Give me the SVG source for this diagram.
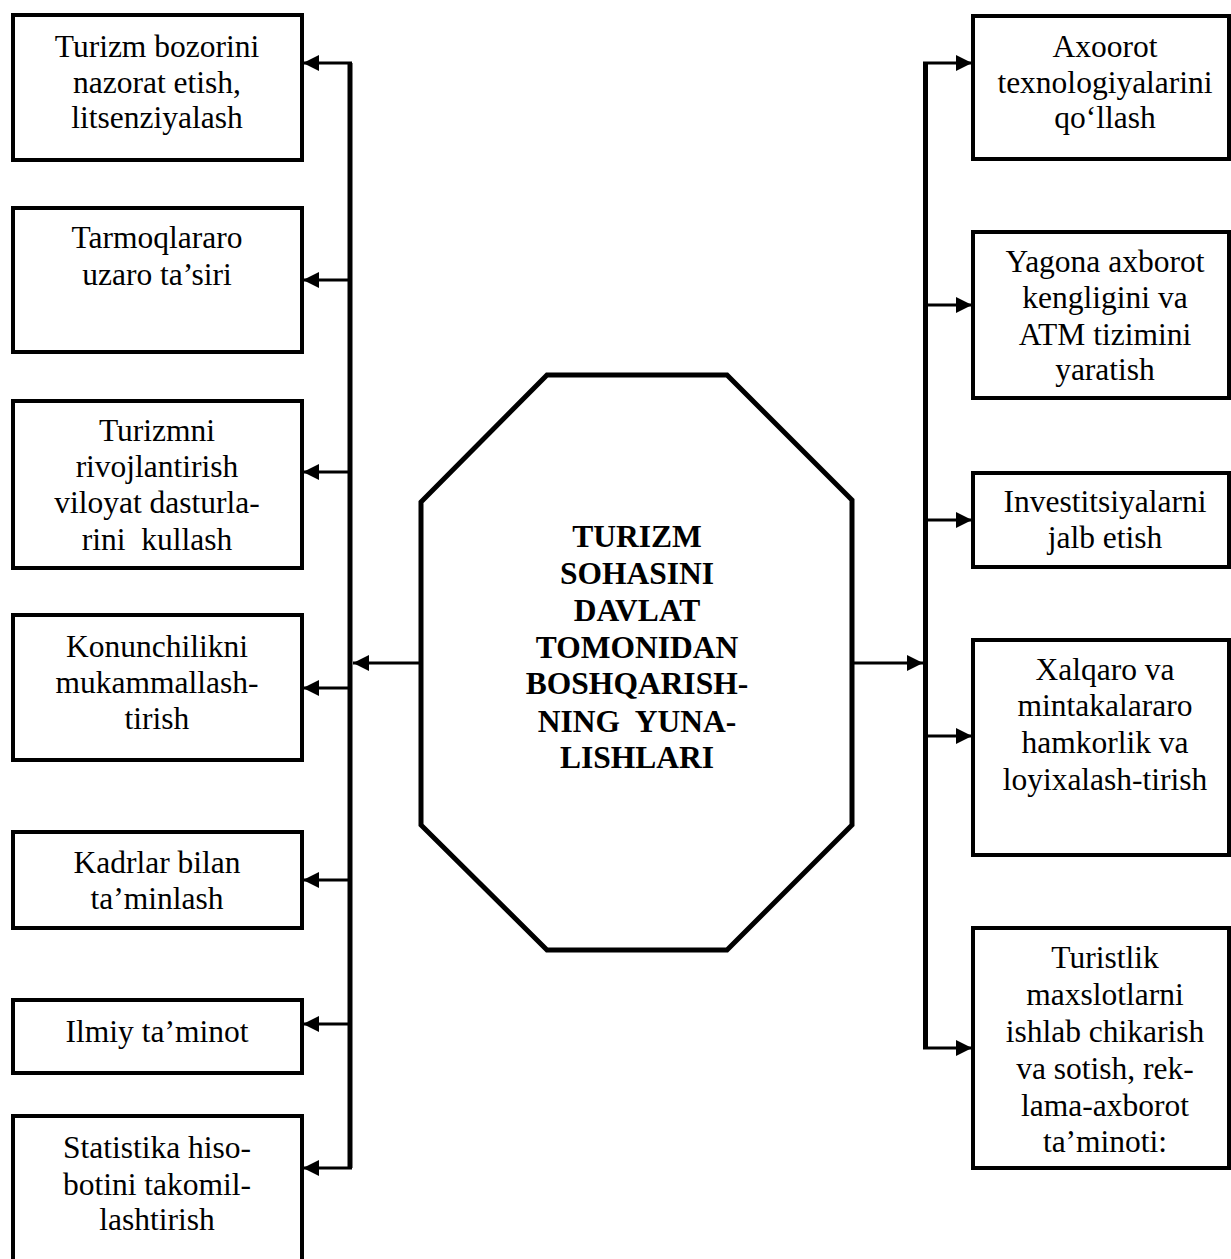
<svg xmlns="http://www.w3.org/2000/svg" width="1231" height="1259" viewBox="0 0 1231 1259">
  <style>
    .box { fill: #fff; stroke: #000; stroke-width: 4; }
    .oct { fill: #fff; stroke: #000; stroke-width: 5; stroke-linejoin: miter; }
    .bus { fill: none; stroke: #000; stroke-width: 5; stroke-linejoin: miter; }
    .arr { fill: none; stroke: #000; stroke-width: 3; }
    .t { font-family: "Liberation Serif", "Times New Roman", serif; font-size: 31.5px; fill: #000; text-anchor: middle; }
    .c { font-family: "Liberation Serif", "Times New Roman", serif; font-size: 31.5px; font-weight: bold; fill: #000; text-anchor: middle; }
  </style>
  <defs>
    <marker id="ah" markerUnits="userSpaceOnUse" markerWidth="18" markerHeight="17" refX="16" refY="8" orient="auto">
      <path d="M0,0 L16,8 L0,16 Z" fill="#000"/>
    </marker>
  </defs>
  <rect width="1231" height="1259" fill="#fff"/>

  <!-- connectors -->
  <g id="connectors">
    <!-- left bus and branches -->
    <path class="bus" d="M350,63 V1168"/>
    <path class="arr" d="M352,63 H303" marker-end="url(#ah)"/>
    <path class="arr" d="M350,280 H303" marker-end="url(#ah)"/>
    <path class="arr" d="M350,472 H303" marker-end="url(#ah)"/>
    <path class="arr" d="M350,688 H303" marker-end="url(#ah)"/>
    <path class="arr" d="M350,880 H303" marker-end="url(#ah)"/>
    <path class="arr" d="M350,1024 H303" marker-end="url(#ah)"/>
    <path class="arr" d="M352,1168 H303" marker-end="url(#ah)"/>
    <!-- centre to left bus -->
    <path class="arr" d="M419,663 H353" marker-end="url(#ah)"/>
    <!-- right bus and branches -->
    <path class="bus" d="M925.5,63 V1048"/>
    <path class="arr" d="M923,63 H972" marker-end="url(#ah)"/>
    <path class="arr" d="M925,305 H972" marker-end="url(#ah)"/>
    <path class="arr" d="M925,520 H972" marker-end="url(#ah)"/>
    <path class="arr" d="M925,736 H972" marker-end="url(#ah)"/>
    <path class="arr" d="M923,1048 H972" marker-end="url(#ah)"/>
    <!-- centre to right bus -->
    <path class="arr" d="M854,663 H923" marker-end="url(#ah)"/>
  </g>

  <!-- centre node -->
  <g id="centre">
    <polygon class="oct" points="547,375 727,375 852,500 852,825 727,950 547,950 421,825 421,502"/>
    <text class="c" x="637" y="547">TURIZM</text>
    <text class="c" x="637" y="584">SOHASINI</text>
    <text class="c" x="637" y="621">DAVLAT</text>
    <text class="c" x="637" y="658">TOMONIDAN</text>
    <text class="c" x="637" y="694">BOSHQARISH-</text>
    <text class="c" x="637" y="732" xml:space="preserve">NING  YUNA-</text>
    <text class="c" x="637" y="768">LISHLARI</text>
  </g>

  <!-- left column -->
  <g id="l1">
    <rect class="box" x="13" y="15" width="289" height="145"/>
    <text class="t" x="157" y="57">Turizm bozorini</text>
    <text class="t" x="157" y="93">nazorat etish,</text>
    <text class="t" x="157" y="128">litsenziyalash</text>
  </g>
  <g id="l2">
    <rect class="box" x="13" y="208" width="289" height="144"/>
    <text class="t" x="157" y="248">Tarmoqlararo</text>
    <text class="t" x="157" y="285">uzaro ta’siri</text>
  </g>
  <g id="l3">
    <rect class="box" x="13" y="401" width="289" height="167"/>
    <text class="t" x="157" y="441">Turizmni</text>
    <text class="t" x="157" y="477">rivojlantirish</text>
    <text class="t" x="157" y="513">viloyat dasturla-</text>
    <text class="t" x="157" y="550" xml:space="preserve">rini  kullash</text>
  </g>
  <g id="l4">
    <rect class="box" x="13" y="615" width="289" height="145"/>
    <text class="t" x="157" y="657">Konunchilikni</text>
    <text class="t" x="157" y="693">mukammallash-</text>
    <text class="t" x="157" y="729">tirish</text>
  </g>
  <g id="l5">
    <rect class="box" x="13" y="832" width="289" height="96"/>
    <text class="t" x="157" y="873">Kadrlar bilan</text>
    <text class="t" x="157" y="909">ta’minlash</text>
  </g>
  <g id="l6">
    <rect class="box" x="13" y="1000" width="289" height="73"/>
    <text class="t" x="157" y="1042">Ilmiy ta’minot</text>
  </g>
  <g id="l7">
    <rect class="box" x="13" y="1116" width="289" height="150"/>
    <text class="t" x="157" y="1158">Statistika hiso-</text>
    <text class="t" x="157" y="1195">botini takomil-</text>
    <text class="t" x="157" y="1230">lashtirish</text>
  </g>

  <!-- right column -->
  <g id="r1">
    <rect class="box" x="973" y="16" width="256" height="143"/>
    <text class="t" x="1105" y="57">Axoorot</text>
    <text class="t" x="1105" y="93">texnologiyalarini</text>
    <text class="t" x="1105" y="128">qo‘llash</text>
  </g>
  <g id="r2">
    <rect class="box" x="973" y="232" width="256" height="166"/>
    <text class="t" x="1105" y="272">Yagona axborot</text>
    <text class="t" x="1105" y="308">kengligini va</text>
    <text class="t" x="1105" y="345">ATM tizimini</text>
    <text class="t" x="1105" y="380">yaratish</text>
  </g>
  <g id="r3">
    <rect class="box" x="973" y="473" width="256" height="94"/>
    <text class="t" x="1105" y="512">Investitsiyalarni</text>
    <text class="t" x="1105" y="548">jalb etish</text>
  </g>
  <g id="r4">
    <rect class="box" x="973" y="640" width="256" height="215"/>
    <text class="t" x="1105" y="680">Xalqaro va</text>
    <text class="t" x="1105" y="716">mintakalararo</text>
    <text class="t" x="1105" y="753">hamkorlik va</text>
    <text class="t" x="1105" y="790">loyixalash-tirish</text>
  </g>
  <g id="r5">
    <rect class="box" x="973" y="928" width="256" height="240"/>
    <text class="t" x="1105" y="968">Turistlik</text>
    <text class="t" x="1105" y="1005">maxslotlarni</text>
    <text class="t" x="1105" y="1042">ishlab chikarish</text>
    <text class="t" x="1105" y="1079">va sotish, rek-</text>
    <text class="t" x="1105" y="1116">lama-axborot</text>
    <text class="t" x="1105" y="1152">ta’minoti:</text>
  </g>
</svg>
